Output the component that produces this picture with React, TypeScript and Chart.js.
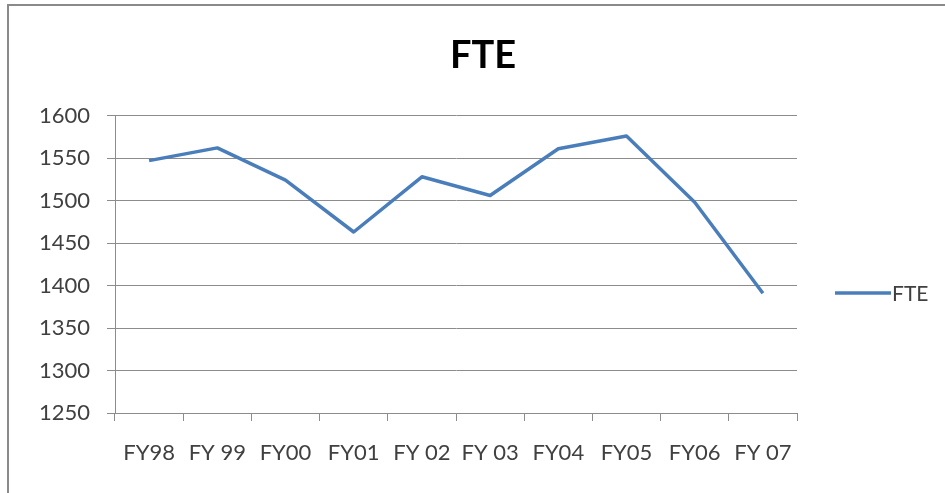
import React, { useEffect, useRef } from "react";
import { Chart, registerables } from "chart.js";

Chart.register(...registerables);

// Fiscal years and full-time-equivalent headcount
const categories = ["FY98", "FY 99", "FY00", "FY01", "FY 02", "FY 03", "FY04", "FY05", "FY06", "FY 07"];
const fteValues = [1547, 1562, 1524, 1463, 1528, 1506, 1561, 1576, 1498, 1391];
const yTicks = [1250, 1300, 1350, 1400, 1450, 1500, 1550, 1600];

const seriesLabel = "FTE";
const chartTitle = "FTE";

const FONT = "Lato, 'Open Sans', 'DejaVu Sans', sans-serif";
const LINE_BLUE = "#4a7ebb";
const GRID = "#8c8c8c";
const TEXT = "#404040";

// Draws a legend entry per dataset in the space to the right of the plot
const sideLegend = {
  id: "sideLegend",
  afterDraw(chart: any, _args: any, opts: any) {
    const { ctx } = chart;
    const x0 = chart.chartArea.right + opts.offsetX;
    let y = opts.y;
    ctx.save();
    chart.data.datasets.forEach((ds: any) => {
      ctx.strokeStyle = ds.borderColor;
      ctx.lineWidth = ds.borderWidth;
      ctx.beginPath();
      ctx.moveTo(x0, y);
      ctx.lineTo(x0 + opts.lineLength, y);
      ctx.stroke();
      ctx.fillStyle = opts.color;
      ctx.font = opts.font;
      ctx.textBaseline = "middle";
      ctx.textAlign = "left";
      ctx.fillText(ds.label, x0 + opts.lineLength + 1, y + 1);
      y += opts.spacing;
    });
    ctx.restore();
  },
};

// Centres the title over the whole chart frame, legend column included
const titleSpan = {
  id: "titleSpan",
  afterLayout(chart: any, _args: any, opts: any) {
    const t = chart.titleBlock;
    if (!t) return;
    t.left = 0;
    t.right = opts.frameWidth;
    t.width = opts.frameWidth;
  },
};

export default function App() {
  const canvasRef = useRef<HTMLCanvasElement | null>(null);

  useEffect(() => {
    if (!canvasRef.current) return;
    const chart = new Chart(canvasRef.current, {
      type: "line",
      data: {
        labels: categories,
        datasets: [
          {
            label: seriesLabel,
            data: fteValues,
            borderColor: LINE_BLUE,
            backgroundColor: LINE_BLUE,
            borderWidth: 3.5,
            pointRadius: 0,
            tension: 0,
            borderJoinStyle: "round",
          },
        ],
      },
      plugins: [sideLegend, titleSpan],
      options: {
        responsive: false,
        animation: false,
        layout: { padding: { left: 0, right: 148, top: 0, bottom: 0 } },
        plugins: {
          legend: { display: false },
          tooltip: { enabled: false },
          title: {
            display: true,
            text: chartTitle,
            color: "#000000",
            font: { family: FONT, size: 38, weight: "bold", lineHeight: 1.2 },
            padding: { top: 33, bottom: 37 },
          },
          titleSpan: { frameWidth: 966 },
          sideLegend: {
            offsetX: 38,
            lineLength: 56,
            y: 293,
            spacing: 26,
            color: TEXT,
            font: `21px ${FONT}`,
          },
        } as any,
        scales: {
          x: {
            type: "category",
            offset: true,
            grid: {
              offset: true,
              drawOnChartArea: false,
              drawTicks: true,
              tickLength: 8,
              color: GRID,
            },
            border: { display: true, color: GRID, width: 1 },
            ticks: {
              color: TEXT,
              font: { family: FONT, size: 22 },
              padding: 19,
              maxRotation: 0,
              autoSkip: false,
            },
            afterFit(scale: any) {
              scale.height = 80;
            },
          },
          y: {
            min: 1250,
            max: 1600,
            afterBuildTicks(scale: any) {
              scale.ticks = yTicks.map((v) => ({ value: v }));
            },
            grid: {
              drawTicks: true,
              tickLength: 8,
              color: GRID,
              lineWidth: 1,
            },
            border: { display: true, color: GRID, width: 1 },
            ticks: {
              color: TEXT,
              font: { family: FONT, size: 22 },
              padding: 17,
              callback: (v: any) => String(v),
            },
            afterFit(scale: any) {
              scale.width = 115;
            },
          },
        },
      } as any,
    });
    return () => chart.destroy();
  }, []);

  return (
    <div
      style={{
        position: "fixed",
        left: 0,
        top: 0,
        width: 945,
        height: 493,
        overflow: "hidden",
        background: "#ffffff",
      }}
    >
      <div
        style={{
          position: "absolute",
          left: 7,
          top: 4,
          width: 1200,
          height: 800,
          border: "2px solid #8a8a8a",
          boxSizing: "border-box",
        }}
      />
      <canvas
        ref={canvasRef}
        width={945}
        height={493}
        style={{ position: "absolute", left: 0, top: 0, width: 945, height: 493 }}
      />
    </div>
  );
}
